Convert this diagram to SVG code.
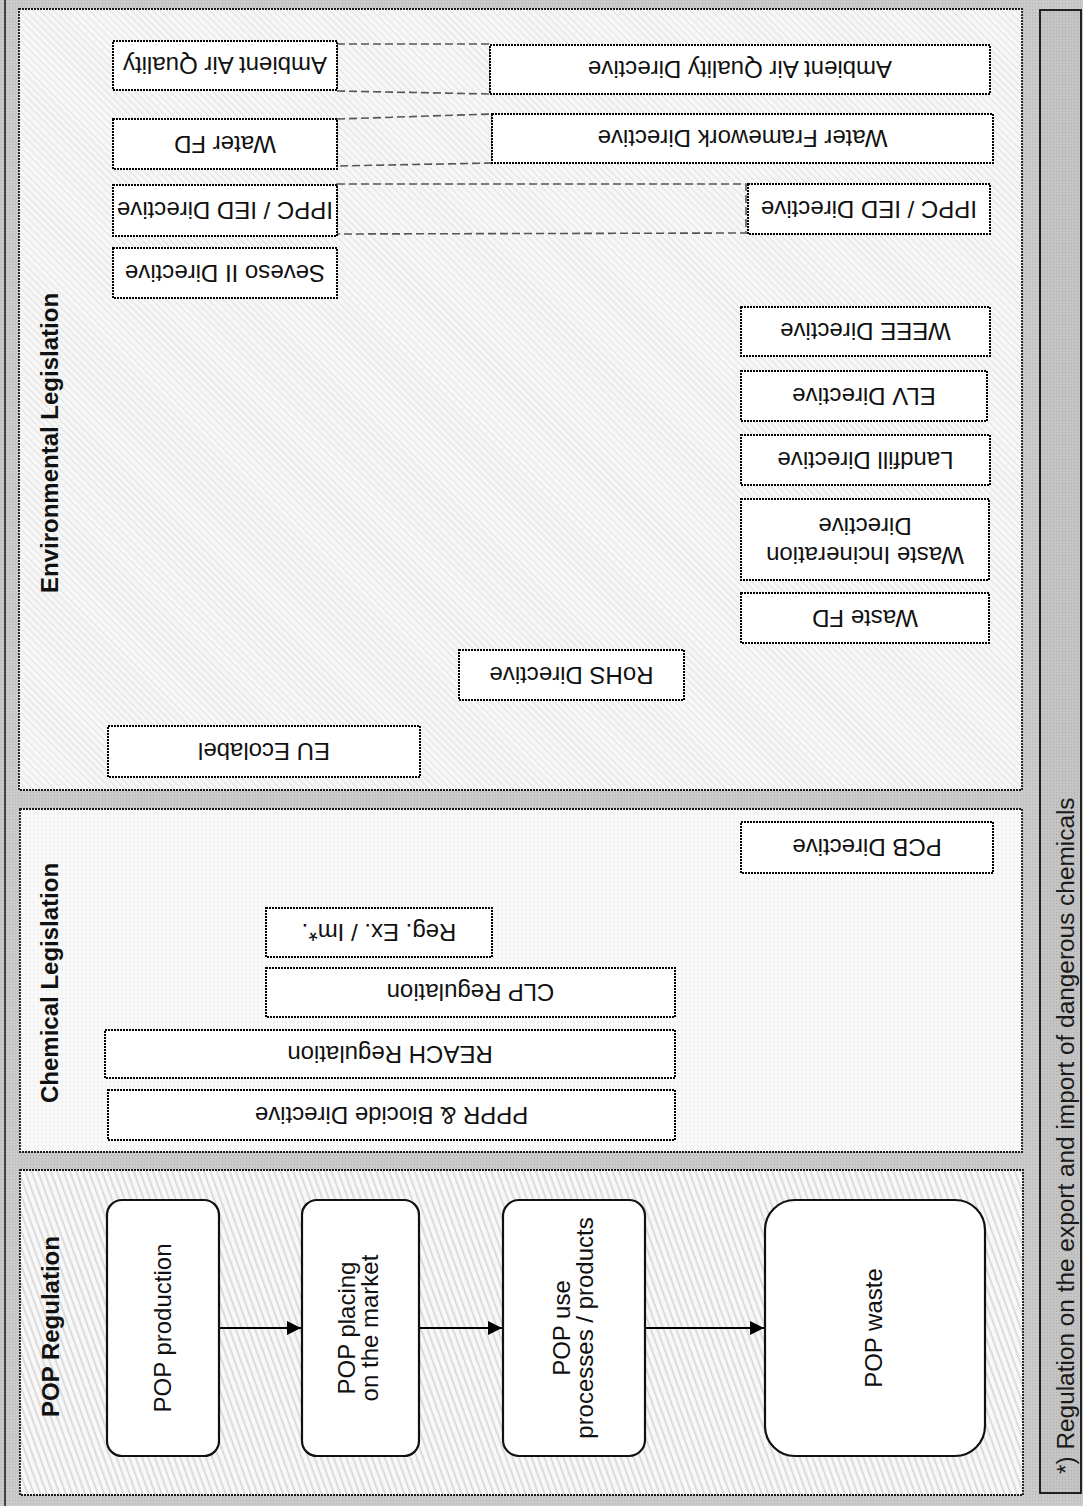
<svg xmlns="http://www.w3.org/2000/svg" width="1083" height="1506" viewBox="0 0 1083 1506">
<style>
.t{font-family:"Liberation Sans",Arial,sans-serif;font-size:24px;fill:#111;text-anchor:middle}
.lbl{font-family:"Liberation Sans",Arial,sans-serif;font-size:24px;font-weight:bold;fill:#111}
.foot{font-family:"Liberation Sans",Arial,sans-serif;font-size:24.4px;fill:#1a1a1a}
.dbox{fill:#fff;stroke:#000;stroke-width:2;stroke-dasharray:2 1}
.panel{stroke:#1a1a1a;stroke-width:1.8;stroke-dasharray:2 1}
.rbox{fill:#fff;stroke:#111;stroke-width:2.2}
.dash{fill:none;stroke:#555;stroke-width:1.6;stroke-dasharray:8 4}
.arr{stroke:#000;stroke-width:2.2;fill:none;marker-end:url(#ah)}
</style>
<defs>
<pattern id="bgdots" width="3" height="3" patternUnits="userSpaceOnUse">
<rect width="3" height="3" fill="#cacaca"/><rect width="1" height="1" fill="#b4b4b4"/>
</pattern>
<pattern id="footdots" width="3" height="3" patternUnits="userSpaceOnUse">
<rect width="3" height="3" fill="#c4c4c4"/><rect width="1" height="1" fill="#aeaeae"/>
</pattern>
<pattern id="envhatch" width="5" height="5" patternUnits="userSpaceOnUse" patternTransform="rotate(-45)">
<rect width="5" height="5" fill="#f7f7f7"/><line x1="0.5" y1="0" x2="0.5" y2="5" stroke="#e3e3e3" stroke-width="1.3"/>
</pattern>
<pattern id="popstripe" width="6" height="6" patternUnits="userSpaceOnUse" patternTransform="rotate(-20)">
<rect width="6" height="6" fill="#f8f8f8"/><line x1="1" y1="0" x2="1" y2="6" stroke="#dcdcdc" stroke-width="2"/>
</pattern>
<pattern id="chemdots" width="4" height="4" patternUnits="userSpaceOnUse">
<rect width="4" height="4" fill="#f9f9f9"/><circle cx="2" cy="2" r="0.7" fill="#e2e2e2"/>
</pattern>
<marker id="ah" viewBox="0 0 10 10" refX="10" refY="5" markerUnits="userSpaceOnUse" markerWidth="15" markerHeight="14" orient="auto">
<path d="M0,0 L10,5 L0,10 z" fill="#000"/>
</marker>
</defs>

<rect x="0" y="0" width="1083" height="1506" fill="url(#bgdots)"/>
<line x1="5" y1="0" x2="5" y2="1506" stroke="#444" stroke-width="2"/>

<g id="footnote">
<rect x="1040" y="10" width="41" height="1483" fill="url(#footdots)" stroke="#111" stroke-width="1.8"/>
<text class="foot" transform="rotate(-90 1074 1474)" x="1074" y="1474">*) Regulation on the export and import of dangerous chemicals</text>
</g>

<g id="env-panel">
<rect class="panel" x="19" y="9" width="1003" height="781" fill="url(#envhatch)"/>
<text class="lbl" transform="rotate(-90 58 593)" x="58" y="593">Environmental Legislation</text>
</g>
<g id="chem-panel">
<rect class="panel" x="20" y="809" width="1002" height="343" fill="url(#chemdots)"/>
<text class="lbl" transform="rotate(-90 58 1103)" x="58" y="1103">Chemical Legislation</text>
</g>
<g id="pop-panel">
<rect class="panel" x="20" y="1170" width="1003" height="325" fill="url(#popstripe)"/>
<text class="lbl" transform="rotate(-90 59 1417)" x="59" y="1417">POP Regulation</text>
</g>

<g id="connectors">
<polygon class="dash" points="337,44 490,44 490,94 337,91"/>
<polygon class="dash" points="337,119 492,114 492,163 337,166"/>
<polygon class="dash" points="337,184 746,184 746,233 337,234"/>
<line class="arr" x1="219" y1="1328" x2="301" y2="1328"/>
<line class="arr" x1="419" y1="1328" x2="502" y2="1328"/>
<line class="arr" x1="645" y1="1328" x2="764" y2="1328"/>
</g>

<g id="ambient-aq-small"><rect class="dbox" x="113" y="41" width="224" height="49"/><text class="t" transform="rotate(180 225 65.5)" x="225" y="74">Ambient Air Quality</text></g>
<g id="ambient-aq-directive"><rect class="dbox" x="490" y="45" width="500" height="49"/><text class="t" transform="rotate(180 740 69.5)" x="740" y="78">Ambient Air Quality Directive</text></g>
<g id="water-fd"><rect class="dbox" x="113" y="119" width="224" height="50"/><text class="t" transform="rotate(180 225 144)" x="225" y="152.5">Water FD</text></g>
<g id="water-framework"><rect class="dbox" x="492" y="114" width="501" height="49"/><text class="t" transform="rotate(180 742.5 138.5)" x="742.5" y="147">Water Framework Directive</text></g>
<g id="ippc-small"><rect class="dbox" x="113" y="185" width="224" height="51"/><text class="t" transform="rotate(180 225 210.5)" x="225" y="219">IPPC / IED Directive</text></g>
<g id="ippc-big"><rect class="dbox" x="748" y="184" width="242" height="50"/><text class="t" transform="rotate(180 869 209)" x="869" y="217.5">IPPC / IED Directive</text></g>
<g id="seveso"><rect class="dbox" x="113" y="248" width="224" height="50"/><text class="t" transform="rotate(180 225 273)" x="225" y="281.5">Seveso II Directive</text></g>
<g id="weee"><rect class="dbox" x="741" y="307" width="249" height="49"/><text class="t" transform="rotate(180 865.5 331.5)" x="865.5" y="340">WEEE Directive</text></g>
<g id="elv"><rect class="dbox" x="741" y="371" width="246" height="50"/><text class="t" transform="rotate(180 864 396)" x="864" y="404.5">ELV Directive</text></g>
<g id="landfill"><rect class="dbox" x="741" y="435" width="249" height="50"/><text class="t" transform="rotate(180 865.5 460)" x="865.5" y="468.5">Landfill Directive</text></g>
<g id="waste-incineration"><rect class="dbox" x="741" y="499" width="248" height="81"/><text class="t" transform="rotate(180 865 539.5)" x="865"><tspan x="865" y="532">Waste Incineration</tspan><tspan x="865" y="561">Directive</tspan></text></g>
<g id="waste-fd"><rect class="dbox" x="741" y="593" width="248" height="50"/><text class="t" transform="rotate(180 865 618)" x="865" y="626.5">Waste FD</text></g>
<g id="rohs"><rect class="dbox" x="459" y="650" width="225" height="50"/><text class="t" transform="rotate(180 571.5 675)" x="571.5" y="683.5">RoHS Directive</text></g>
<g id="eu-ecolabel"><rect class="dbox" x="108" y="726" width="312" height="51"/><text class="t" transform="rotate(180 264 751.5)" x="264" y="760">EU Ecolabel</text></g>

<g id="pcb"><rect class="dbox" x="741" y="822" width="252" height="51"/><text class="t" transform="rotate(180 867 847.5)" x="867" y="856">PCB Directive</text></g>
<g id="reg-ex-im"><rect class="dbox" x="266" y="908" width="226" height="49"/><text class="t" transform="rotate(180 379 932.5)" x="379" y="941">Reg. Ex. / Im*.</text></g>
<g id="clp"><rect class="dbox" x="266" y="968" width="409" height="49"/><text class="t" transform="rotate(180 470.5 992.5)" x="470.5" y="1001">CLP Regulation</text></g>
<g id="reach"><rect class="dbox" x="105" y="1030" width="570" height="48"/><text class="t" transform="rotate(180 390 1054)" x="390" y="1062.5">REACH Regulation</text></g>
<g id="pppr"><rect class="dbox" x="108" y="1090" width="567" height="50"/><text class="t" transform="rotate(180 391.5 1115)" x="391.5" y="1123.5">PPPR &amp; Biocide Directive</text></g>

<g id="pop-production"><rect class="rbox" x="107" y="1200" width="112" height="256" rx="15"/><text class="t" transform="rotate(-90 163 1328)" x="163" y="1336">POP production</text></g>
<g id="pop-placing"><rect class="rbox" x="302" y="1200" width="117" height="256" rx="15"/><text class="t" transform="rotate(-90 360 1328)"><tspan x="360" y="1323">POP placing</tspan><tspan x="360" y="1346">on the market</tspan></text></g>
<g id="pop-use"><rect class="rbox" x="503" y="1200" width="142" height="256" rx="16"/><text class="t" transform="rotate(-90 574 1328)"><tspan x="574" y="1324">POP use</tspan><tspan x="574" y="1347">processes / products</tspan></text></g>
<g id="pop-waste"><rect class="rbox" x="765" y="1200" width="220" height="256" rx="30"/><text class="t" transform="rotate(-90 875 1328)" x="875" y="1335">POP waste</text></g>
</svg>
